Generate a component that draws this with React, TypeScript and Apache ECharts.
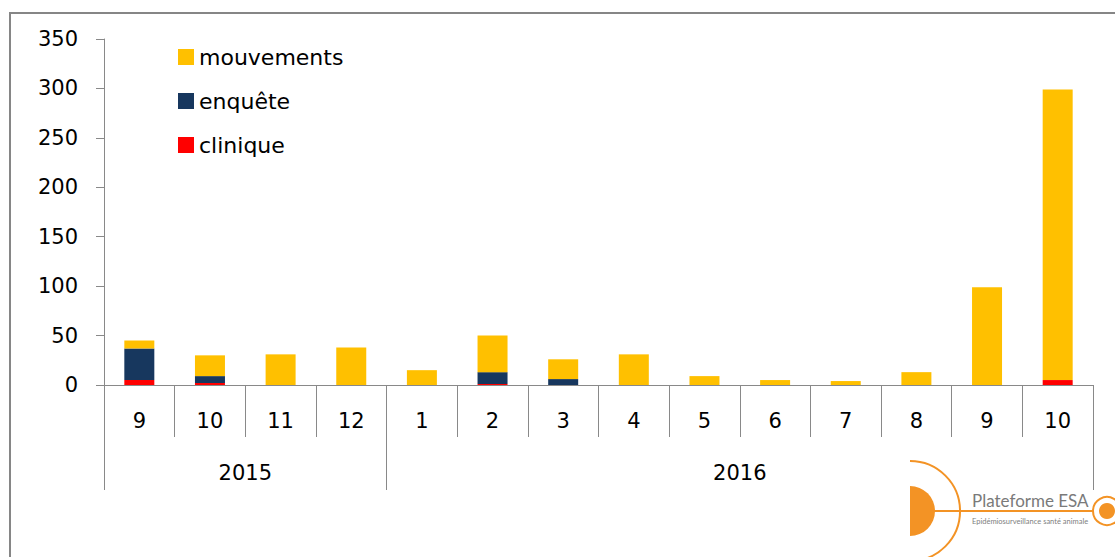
import React, { useEffect, useRef } from "react";
import * as echarts from "echarts";

const months = ["9", "10", "11", "12", "1", "2", "3", "4", "5", "6", "7", "8", "9", "10"];
const monthYears = ["2015", "2015", "2015", "2015", "2016", "2016", "2016", "2016", "2016", "2016", "2016", "2016", "2016", "2016"];
const years = ["2015", "2016"];
const yearSpans = [4, 10];
const clinique = [5, 2, 0, 0, 0, 1, 0, 0, 0, 0, 0, 0, 0, 5];
const enquete = [32, 7, 0, 0, 0, 12, 6, 0, 0, 0, 0, 0, 0, 0];
const mouvements = [8, 21, 31, 38, 15, 37, 20, 31, 9, 5, 4, 13, 99, 294];
const yTicks = { min: 0, max: 350, interval: 50 };

const FONT = "DejaVu Sans";
const AXIS_GRAY = "#898989";
const ORANGE = "#F39325";

export default function App() {
  const ref = useRef<HTMLDivElement>(null);
  useEffect(() => {
    document.body.style.margin = "0";
    const chart = echarts.init(ref.current!, null, { renderer: "svg" });
    const categories = months.map((m, i) => `${monthYears[i]}-${m}`);
    const yearBounds: number[] = [0];
    const yearCenters: number[] = [];
    let acc = 0;
    yearSpans.forEach((s) => {
      yearCenters.push(acc + s / 2);
      acc += s;
      yearBounds.push(acc);
    });
    chart.setOption({
      animation: false,
      grid: { left: 104, right: 22, top: 39, height: 346, containLabel: false },
      legend: {
        data: ["mouvements", "enquête", "clinique"],
        orient: "vertical",
        left: 173,
        top: 41,
        itemWidth: 16,
        itemHeight: 16,
        itemGap: 22,
        icon: "rect",
        textStyle: { fontFamily: FONT, fontSize: 22, color: "#000" },
      },
      xAxis: [
        {
          type: "category",
          data: categories,
          position: "bottom",
          axisLine: { lineStyle: { color: AXIS_GRAY, width: 1 } },
          axisTick: { show: true, length: 52, interval: 0, lineStyle: { color: AXIS_GRAY } },
          axisLabel: {
            interval: 0,
            margin: 25,
            fontFamily: FONT,
            fontSize: 21,
            color: "#000",
            formatter: (v: string) => v.split("-")[1],
          },
        },
        {
          type: "value",
          min: 0,
          max: acc,
          position: "bottom",
          offset: 52,
          axisLine: { show: false },
          splitLine: { show: false },
          axisTick: { show: true, length: 53, customValues: yearBounds, lineStyle: { color: AXIS_GRAY } },
          axisLabel: {
            customValues: yearCenters,
            margin: 25,
            fontFamily: FONT,
            fontSize: 21,
            color: "#000",
            formatter: (v: number) => {
              const i = yearCenters.indexOf(v);
              return i >= 0 ? years[i] : "";
            },
          },
        },
      ],
      yAxis: {
        type: "value",
        min: yTicks.min,
        max: yTicks.max,
        interval: yTicks.interval,
        axisLine: { show: true, lineStyle: { color: AXIS_GRAY } },
        axisTick: { show: true, length: 8, lineStyle: { color: AXIS_GRAY } },
        splitLine: { show: false },
        axisLabel: { margin: 26, fontFamily: FONT, fontSize: 21, color: "#000" },
      },
      series: [
        { name: "clinique", type: "bar", stack: "a", data: clinique, barWidth: 30, itemStyle: { color: "#FF0000" } },
        { name: "enquête", type: "bar", stack: "a", data: enquete, barWidth: 30, itemStyle: { color: "#17375E" } },
        { name: "mouvements", type: "bar", stack: "a", data: mouvements, barWidth: 30, itemStyle: { color: "#FFC000" } },
      ],
      graphic: [
        {
          type: "rect",
          z: 100,
          shape: { x: 10, y: 13, width: 1300, height: 700 },
          style: { fill: "none", stroke: "#868686", lineWidth: 2 },
        },
        {
          type: "group",
          z: 100,
          children: [
            { type: "rect", shape: { x: 897, y: 458, width: 218, height: 99 }, style: { fill: "#fff" } },
            {
              type: "arc",
              shape: { cx: 910, cy: 511, r: 50, startAngle: -Math.PI / 2, endAngle: Math.PI / 2 },
              style: { stroke: ORANGE, lineWidth: 2, fill: "none" },
            },
            {
              type: "sector",
              shape: { cx: 910, cy: 511, r: 25, r0: 0, startAngle: -Math.PI / 2, endAngle: Math.PI / 2 },
              style: { fill: ORANGE },
            },
            { type: "line", shape: { x1: 930, y1: 511, x2: 1094, y2: 511 }, style: { stroke: ORANGE, lineWidth: 2 } },
            { type: "circle", shape: { cx: 1107, cy: 511, r: 14 }, style: { fill: "none", stroke: ORANGE, lineWidth: 2 } },
            { type: "circle", shape: { cx: 1107, cy: 511, r: 8 }, style: { fill: ORANGE } },
            {
              type: "text",
              x: 972,
              y: 500,
              style: {
                text: "Plateforme ESA",
                fill: "#7a7a7a",
                font: "normal 17px Lato",
                verticalAlign: "middle",
              },
            },
            {
              type: "text",
              x: 972,
              y: 521,
              style: {
                text: "Epidémiosurveillance santé animale",
                fill: "#808080",
                font: "7.5px Lato",
                verticalAlign: "middle",
              },
            },
          ],
        },
      ],
    });
    return () => chart.dispose();
  }, []);
  return <div ref={ref} style={{ width: 1115, height: 557 }} />;
}
